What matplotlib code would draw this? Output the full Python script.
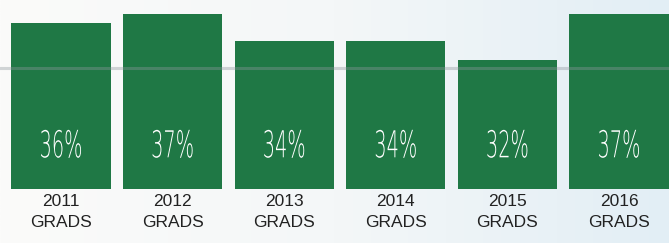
import matplotlib; matplotlib.use('Agg')
import matplotlib.pyplot as plt
import numpy as np
from matplotlib.textpath import TextPath
from matplotlib.patches import PathPatch
from matplotlib.font_manager import FontProperties
from matplotlib.transforms import Affine2D, ScaledTranslation
from matplotlib.colors import LinearSegmentedColormap

years = ['2011', '2012', '2013', '2014', '2015', '2016']
pct = [36, 37, 34, 34, 32, 37]
sublabel = 'GRADS'

GREEN = '#1f7845'
DPI = 100
fig = plt.figure(figsize=(6.69, 2.43), dpi=DPI)

# pale paper background, a little blue on the right
bg = fig.add_axes([0, 0, 1, 1]); bg.axis('off')
cmap = LinearSegmentedColormap.from_list('paper', ['#fbfbfa', '#f4f7f8', '#e2eef5'])
bg.imshow(np.linspace(0, 1, 256)[None, :], aspect='auto', cmap=cmap, extent=(0, 1, 0, 1))
bg.set_xlim(0, 1); bg.set_ylim(0, 1)

ax = fig.add_axes([0, 54 / 243, 1, 189 / 243])
ax.patch.set_alpha(0)
for s in ax.spines.values():
    s.set_visible(False)
ax.set_xticks([]); ax.set_yticks([])

x = np.arange(len(years))
ax.bar(x, pct, width=0.89, color=GREEN, zorder=2)
ax.set_xlim(-0.547, 5.448)
ax.set_ylim(18, 38.5)

# faint rule across the chart, showing through the bars
ax.axhline(31.15, color='#8e969c', lw=2.2, alpha=0.38, zorder=3)

# condensed, thin white percentages
fp = FontProperties(family='DejaVu Sans', weight='light')
for xi, v in zip(x, pct):
    tp = TextPath((0, 0), f'{v}%', size=1, prop=fp)
    ext = tp.get_extents()
    w_px, h_px = 40, 28
    tr = (Affine2D().translate(-(ext.x0 + ext.x1) / 2, -(ext.y0 + ext.y1) / 2)
          .scale(w_px / ext.width, h_px / ext.height)
          + ScaledTranslation(xi, 22.9, ax.transData))
    ax.add_patch(PathPatch(tp, transform=tr, facecolor='white', edgecolor='none', zorder=4))

# two-line category labels under the bars
for xi, yr in zip(x, years):
    ax.text(xi, 16.15, yr, ha='center', va='baseline', fontsize=12.5, color='#222222',
            family='Liberation Sans', clip_on=False)
    ax.text(xi, 13.87, sublabel, ha='center', va='baseline', fontsize=12.5, color='#222222',
            family='Liberation Sans', clip_on=False)

plt.savefig('out.png', dpi=DPI)
